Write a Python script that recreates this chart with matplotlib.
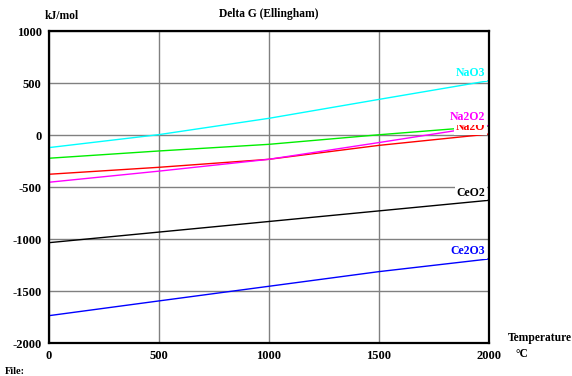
import numpy as np
import matplotlib
matplotlib.use('Agg')
import matplotlib.pyplot as plt

plt.rcParams['font.family'] = ['Liberation Serif', 'DejaVu Serif']
plt.rcParams['font.weight'] = 'bold'
plt.rcParams['axes.unicode_minus'] = False

# temperatures (°C) and Delta G (kJ/mol)
t_5 = [0, 500, 1000, 1500, 2000]

nao3 = [-119, 6, 163, 345, 525]
green = [-221, -151, -87, 5, 89]
na2o = [-375, -308, -231, -97, 12]
na2o2 = [-452, -345, -231, -70, 95]
ceo2 = [-1033, -931, -829, -727, -625]
ce2o3 = [-1735, -1593, -1452, -1311, -1189]

labels = ['NaO3', 'Na2O', 'Na2O2', 'CeO2', 'Ce2O3']
label_y = [599, 80, 175, -552, -1112]
label_colors = ['#00ffff', '#ff0000', '#ff00ff', '#000000', '#0000ff']

fig = plt.figure(figsize=(5.72, 3.76), dpi=100)
ax = fig.add_axes([0.0848, 0.087, 0.7702, 0.8298])

ax.plot(t_5, nao3, color='#00ffff', lw=1)
ax.plot(t_5, green, color='#00ee00', lw=1)
ax.plot(t_5, na2o, color='#ff0000', lw=1)
ax.plot(t_5, na2o2, color='#ff00ff', lw=1)
ax.plot(t_5, ceo2, color='#000000', lw=1)
ax.plot(t_5, ce2o3, color='#0000ff', lw=1)

ax.set_xlim(0, 2000)
ax.set_ylim(-2000, 1000)
ax.set_xticks([0, 500, 1000, 1500, 2000])
ax.set_yticks([-2000, -1500, -1000, -500, 0, 500, 1000])
ax.grid(True, color='#808080', lw=1)
ax.set_axisbelow(True)
ax.tick_params(length=0, labelsize=9, pad=5)
for lab in ax.get_xticklabels() + ax.get_yticklabels():
    lab.set_fontweight('bold')
for s in ax.spines.values():
    s.set_linewidth(1.6)
    s.set_color('black')

for name, y, c in zip(labels, label_y, label_colors):
    ax.text(1982, y, name, color=c, fontsize=8.5, fontweight='bold',
            ha='right', va='center', zorder=5,
            bbox=dict(facecolor='white', edgecolor='none', pad=1.2))

fig.text(269 / 572, 1 - 14 / 376, 'Delta G (Ellingham)', ha='center', va='center',
         fontsize=8.3, fontweight='bold')
fig.text(45 / 572, 1 - 16 / 376, 'kJ/mol', ha='left', va='center',
         fontsize=8.3, fontweight='bold')
fig.text(508 / 572, 1 - 338 / 376, 'Temperature', ha='left', va='center',
         fontsize=8.3, fontweight='bold')
fig.text(516 / 572, 1 - 354 / 376, '°C', ha='left', va='center',
         fontsize=8.3, fontweight='bold')
fig.text(5 / 572, 1 - 371 / 376, 'File:', ha='left', va='center',
         fontsize=7.5, fontweight='bold')

fig.savefig('out.png', dpi=100)
